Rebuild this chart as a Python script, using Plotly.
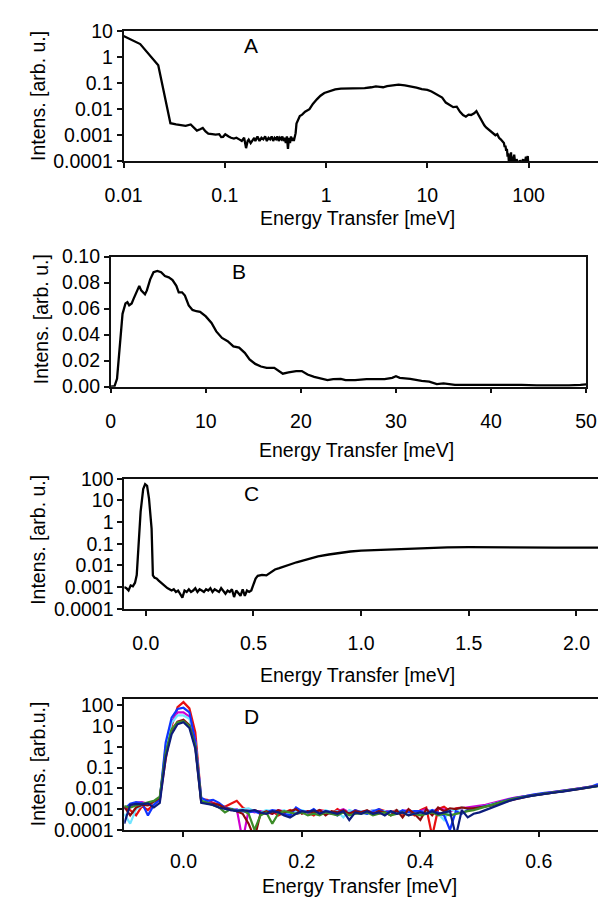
import plotly.graph_objects as go
import math

# ---------------- Panel A (log-log) ----------------
a_x = [0.010, 0.0146, 0.022, 0.029, 0.033, 0.0366, 0.041, 0.046, 0.050, 0.053,
       0.057, 0.0605, 0.0645, 0.0686, 0.075, 0.081, 0.088, 0.092, 0.096, 0.101,
       0.109, 0.115, 0.123, 0.13, 0.14, 0.147, 0.155, 0.162, 0.168, 0.172,
       0.18, 0.187, 0.195, 0.2, 0.21, 0.22, 0.23, 0.24, 0.25, 0.26,
       0.27, 0.28, 0.29, 0.3, 0.31, 0.32, 0.33, 0.34, 0.35, 0.36,
       0.37, 0.38, 0.39, 0.40, 0.41, 0.42, 0.43, 0.44, 0.45, 0.46,
       0.47, 0.48, 0.49, 0.50, 0.51, 0.53, 0.55, 0.58, 0.62, 0.685,
       0.74, 0.81, 0.88, 0.96, 1.05, 1.23, 1.4, 1.72, 2.0, 2.4,
       2.8, 3.1, 3.4, 3.65, 4.0, 4.7, 5.2, 6.0, 6.8, 7.8,
       8.8, 10, 11, 12.8, 14, 15.2, 16.5, 18, 19.5, 21,
       22.5, 24, 25.5, 27, 29, 30.5, 32, 33.5, 35, 36.5,
       38, 40, 42, 45, 47, 49, 51, 53, 55, 57,
       58, 59, 60, 61, 62, 63, 64, 65, 66, 67,
       68, 69, 70, 72, 74, 76, 78, 80, 82, 85,
       88, 91, 94, 96, 98, 100]
a_y = [6.5, 3.2, 0.49, 0.0029, 0.0026, 0.0024, 0.0023, 0.0026, 0.0019, 0.0015,
       0.0017, 0.0019, 0.0014, 0.00115, 0.0011, 0.00105, 0.0011, 0.00085, 0.00087, 0.0011,
       0.0009, 0.0008, 0.00075, 0.0008, 0.00068, 0.0006, 0.0008, 0.00032, 0.0006, 0.00068,
       0.0005, 0.0006, 0.0008, 0.0006, 0.0009, 0.0006, 0.0008, 0.0007, 0.0009, 0.0006,
       0.0008, 0.0007, 0.0009, 0.0006, 0.0008, 0.0007, 0.0009, 0.0006, 0.0008, 0.0007,
       0.0009, 0.0006, 0.0008, 0.0005, 0.0009, 0.0003, 0.0008, 0.0005, 0.0009, 0.0006,
       0.0008, 0.0006, 0.0009, 0.0012, 0.0028, 0.0038, 0.0055, 0.0062, 0.008, 0.01,
       0.016, 0.024, 0.033, 0.042, 0.048, 0.058, 0.062, 0.062, 0.061, 0.065,
       0.07, 0.075, 0.072, 0.07, 0.078, 0.087, 0.088, 0.083, 0.077, 0.068,
       0.059, 0.055, 0.048, 0.034, 0.028, 0.018, 0.015, 0.012, 0.0125, 0.008,
       0.006, 0.0052, 0.0062, 0.006, 0.007, 0.0085, 0.006, 0.0042, 0.0029, 0.0024,
       0.002, 0.0017, 0.0015, 0.0012, 0.001, 0.0011, 0.0008, 0.0007, 0.0006, 0.0005,
       0.00035, 0.0004, 0.00025, 0.0003, 0.00015, 0.0002, 0.00008, 0.00018, 0.0001, 0.00022,
       0.00007, 0.00015, 0.0001, 0.00018, 0.00007, 0.00012, 0.00009, 0.00006, 0.00011, 0.00008,
       0.00012, 0.00007, 0.00015, 0.00008, 0.00016, 0.00005]

# ---------------- Panel B (linear) ----------------
b_x = [0, 0.4, 0.66, 0.93, 1.24, 1.55, 1.75, 1.94, 2.2, 2.4,
       2.8, 3.0, 3.2, 3.6, 3.8, 4.15, 4.5, 4.9, 5.3, 5.7,
       6.1, 6.5, 6.9, 7.15, 7.5, 7.8, 8.2, 8.6, 9.0, 9.4,
       10.0, 10.6, 11.1, 11.7, 12.3, 12.9, 13.5, 14.1, 14.6, 15.2,
       15.8, 16.4, 17.2, 17.6, 18.1, 18.7, 19.5, 20.1, 20.7, 21.4,
       22.2, 22.8, 23.4, 24.2, 24.7, 25.7, 26.9, 28.0, 28.8, 29.6,
       30.0, 30.4, 31.5, 32.7, 33.5, 34.3, 35.0, 36.2, 37.8, 38.9,
       40.1, 41.6, 43.2, 44.8, 46.7, 48.2, 49.4, 50.0]
b_y = [0, 0.0005, 0.006, 0.029, 0.056, 0.064, 0.065, 0.0625, 0.064, 0.0675,
       0.075, 0.0775, 0.074, 0.071, 0.074, 0.0825, 0.088, 0.089, 0.088, 0.085,
       0.084, 0.082, 0.0775, 0.0725, 0.0725, 0.07, 0.0625, 0.059, 0.058, 0.0575,
       0.054, 0.049, 0.0425, 0.0375, 0.035, 0.031, 0.030, 0.026, 0.021, 0.0175,
       0.0155, 0.0145, 0.0145, 0.0125, 0.010, 0.011, 0.012, 0.012, 0.0093, 0.0075,
       0.006, 0.005, 0.0058, 0.006, 0.005, 0.005, 0.0058, 0.006, 0.0058, 0.0068,
       0.008, 0.0068, 0.006, 0.0045, 0.0038, 0.002, 0.0025, 0.0013, 0.0013, 0.0017,
       0.0013, 0.0015, 0.0013, 0.001, 0.0008, 0.001, 0.0013, 0.0017]

# ---------------- Panel C (lin x, log y) ----------------
c_x = [-0.10, -0.09, -0.08, -0.07, -0.06, -0.05, -0.042, -0.033, -0.024, -0.012,
       -0.003, 0.006, 0.015, 0.027, 0.033, 0.041, 0.05, 0.06, 0.07, 0.08,
       0.09, 0.10, 0.11, 0.12, 0.13, 0.14, 0.15, 0.16, 0.17, 0.18,
       0.19, 0.20, 0.21, 0.22, 0.23, 0.24, 0.25, 0.26, 0.27, 0.28,
       0.29, 0.30, 0.31, 0.32, 0.33, 0.34, 0.35, 0.36, 0.37, 0.38,
       0.39, 0.40, 0.41, 0.42, 0.43, 0.44, 0.45, 0.46, 0.47, 0.48,
       0.49, 0.50, 0.51, 0.52, 0.54, 0.56, 0.58, 0.60, 0.62, 0.64,
       0.66, 0.68, 0.70, 0.72, 0.75, 0.78, 0.80, 0.85, 0.90, 0.95,
       1.00, 1.05, 1.10, 1.20, 1.30, 1.40, 1.50, 1.60, 1.70, 1.80,
       1.90, 2.00, 2.10]
c_y = [0.001, 0.0009, 0.0007, 0.0012, 0.0011, 0.0016, 0.0036, 0.19, 3, 33,
       56, 47, 12, 0.5, 0.0035, 0.0027, 0.0025, 0.002, 0.0016, 0.0014,
       0.0011, 0.0009, 0.0008, 0.0007, 0.0008, 0.0006, 0.0007, 0.0005, 0.00033, 0.0007,
       0.0006, 0.0008, 0.0006, 0.0007, 0.0009, 0.0006, 0.0008, 0.0007, 0.0006, 0.0008,
       0.0007, 0.0009, 0.0006, 0.0008, 0.0007, 0.0006, 0.0009, 0.0007, 0.0005, 0.0007,
       0.0006, 0.0008, 0.00035, 0.0007, 0.0005, 0.0004, 0.0008, 0.0004, 0.0007, 0.0006,
       0.0007, 0.0012, 0.0025, 0.0033, 0.0037, 0.0035, 0.005, 0.0065, 0.0075, 0.009,
       0.010, 0.012, 0.014, 0.016, 0.019, 0.023, 0.026, 0.032, 0.038, 0.044,
       0.048, 0.050, 0.054, 0.060, 0.065, 0.068, 0.070, 0.068, 0.068, 0.067,
       0.066, 0.066, 0.066]

# ---------------- Panel D (lin x, log y), 7 runs ----------------
d_x = [-0.10, -0.09, -0.08, -0.07, -0.06, -0.05, -0.04, -0.03, -0.02, -0.01,
       0.00, 0.01, 0.02, 0.03, 0.04, 0.05, 0.06, 0.07, 0.08, 0.09,
       0.10, 0.11, 0.12, 0.13, 0.14, 0.15, 0.16, 0.17, 0.18, 0.19,
       0.20, 0.21, 0.22, 0.23, 0.24, 0.25, 0.26, 0.27, 0.28, 0.29,
       0.30, 0.31, 0.32, 0.33, 0.34, 0.35, 0.36, 0.37, 0.38, 0.39,
       0.40, 0.41, 0.42, 0.43, 0.44, 0.45, 0.46, 0.47, 0.48, 0.49,
       0.50, 0.51, 0.52, 0.53, 0.54, 0.55, 0.56, 0.57, 0.58, 0.59,
       0.60, 0.61, 0.62, 0.63, 0.64, 0.65, 0.66, 0.67, 0.68, 0.69,
       0.70]
d_red = [0.0012, 0.0009, 0.0005, 0.0014, 0.0009, 0.0018, 0.0030, 0.25, 10, 80,
         140, 70, 5, 0.0030, 0.0028, 0.0020, 0.0016, 0.0013, 0.0018, 0.0025,
         0.0012, 0.0008, 0.0009, 0.0007, 0.0006, 0.0008, 0.0005, 0.0007, 0.0009, 0.0006,
         0.0008, 0.0007, 0.0005, 0.0009, 0.0008, 0.0006, 0.0010, 0.0007, 0.0006, 0.0009,
         0.0007, 0.0008, 0.0006, 0.0010, 0.0008, 0.0007, 0.0009, 0.0006, 0.0008, 0.0005,
         0.0009, 0.0012, 0.00005, 0.0010, 0.0013, 0.0008, 0.0011, 0.0012, 0.0011, 0.0012,
         0.0013, 0.0015, 0.0017, 0.0021, 0.0024, 0.0028, 0.0033, 0.0038, 0.0042, 0.0047,
         0.0052, 0.0057, 0.0062, 0.0068, 0.0073, 0.0080, 0.0088, 0.0097, 0.0108, 0.0118,
         0.0135]
d_blue = [0.0010, 0.0018, 0.0022, 0.0020, 0.0005, 0.0016, 0.0030, 1.6, 25, 65,
          75, 45, 1.8, 0.0035, 0.0025, 0.0028, 0.0020, 0.0012, 0.0010, 0.0009,
          0.0008, 0.0007, 0.0008, 0.0006, 0.0007, 0.0009, 0.0008, 0.0006, 0.0005, 0.0012,
          0.0008, 0.0007, 0.0010, 0.0006, 0.0008, 0.0007, 0.0005, 0.0008, 0.0006, 0.0009,
          0.0007, 0.0006, 0.0008, 0.0010, 0.0007, 0.0008, 0.0006, 0.0009, 0.0007, 0.0008,
          0.0008, 0.0006, 0.0009, 0.0007, 0.0005, 0.0001, 0.0008, 0.0006, 0.0009, 0.0011,
          0.0012, 0.0014, 0.0016, 0.0020, 0.0026, 0.0030, 0.0034, 0.0040, 0.0044, 0.0050,
          0.0053, 0.0060, 0.0065, 0.0070, 0.0077, 0.0082, 0.0090, 0.0100, 0.0112, 0.0125,
          0.0160]
d_magenta = [0.0012, 0.0014, 0.0020, 0.0022, 0.0018, 0.0020, 0.0025, 0.9, 15, 45,
             45, 28, 2.2, 0.0025, 0.0022, 0.0018, 0.0012, 0.0011, 0.0009, 0.0010,
             0.00003, 0.0009, 0.0007, 0.0008, 0.0007, 0.0006, 0.0009, 0.0008, 0.0007, 0.0006,
             0.0007, 0.0008, 0.0006, 0.0009, 0.0007, 0.0006, 0.0008, 0.0010, 0.0007, 0.0006,
             0.0008, 0.0007, 0.0009, 0.0006, 0.0008, 0.0007, 0.0006, 0.0008, 0.0009, 0.0007,
             0.0008, 0.0010, 0.0007, 0.0011, 0.0009, 0.0008, 0.0010, 0.0011, 0.0012, 0.0013,
             0.0014, 0.0016, 0.0019, 0.0023, 0.0027, 0.0031, 0.0036, 0.0039, 0.0045, 0.0049,
             0.0054, 0.0058, 0.0064, 0.0070, 0.0075, 0.0081, 0.0089, 0.0098, 0.0108, 0.0120,
             0.0138]
d_cyan = [0.0006, 0.0002, 0.0010, 0.0015, 0.0018, 0.0020, 0.0028, 1.2, 14, 32,
          32, 22, 1.6, 0.0030, 0.0022, 0.0016, 0.0014, 0.0010, 0.0011, 0.0009,
          0.0010, 0.0011, 0.0008, 0.0007, 0.0009, 0.0008, 0.0007, 0.0009, 0.0006, 0.0008,
          0.0009, 0.0007, 0.0008, 0.0006, 0.0009, 0.0007, 0.0008, 0.0004, 0.0009, 0.0007,
          0.0008, 0.0006, 0.0009, 0.0007, 0.0008, 0.0006, 0.0009, 0.0007, 0.0008, 0.0008,
          0.0007, 0.0008, 0.0009, 0.0006, 0.0003, 0.0010, 0.0008, 0.0012, 0.0010, 0.0011,
          0.0012, 0.0014, 0.0017, 0.0020, 0.0024, 0.0029, 0.0033, 0.0037, 0.0042, 0.0047,
          0.0051, 0.0055, 0.0060, 0.0066, 0.0072, 0.0078, 0.0085, 0.0093, 0.0104, 0.0115,
          0.0130]
d_darkred = [0.0013, 0.0005, 0.0012, 0.0016, 0.0015, 0.0022, 0.0035, 0.4, 6, 16,
             20, 11, 1.0, 0.0022, 0.0020, 0.0018, 0.0016, 0.0011, 0.0010, 0.0008,
             0.0006, 0.0002, 0.00004, 0.0006, 0.0008, 0.0006, 0.0009, 0.0007, 0.0008, 0.0010,
             0.0006, 0.0008, 0.0007, 0.0009, 0.0005, 0.0008, 0.0007, 0.0009, 0.0006, 0.0008,
             0.0007, 0.0009, 0.0006, 0.0008, 0.0007, 0.0005, 0.0009, 0.0004, 0.0010, 0.0006,
             0.0003, 0.0010, 0.0005, 0.0012, 0.0008, 0.0011, 0.0010, 0.0012, 0.0011, 0.0011,
             0.0012, 0.0013, 0.0015, 0.0019, 0.0022, 0.0027, 0.0031, 0.0035, 0.0041, 0.0046,
             0.0050, 0.0054, 0.0061, 0.0064, 0.0071, 0.0079, 0.0086, 0.0094, 0.0105, 0.0117,
             0.0132]
d_green = [0.0014, 0.0012, 0.0015, 0.0018, 0.0020, 0.0025, 0.0040, 0.5, 7, 15,
           17, 10, 1.1, 0.0025, 0.0020, 0.0015, 0.0012, 0.0007, 0.0010, 0.0008,
           0.0009, 0.0006, 0.0001, 0.0005, 0.0007, 0.0002, 0.0006, 0.0008, 0.0007, 0.0006,
           0.0007, 0.0005, 0.0006, 0.0005, 0.0007, 0.0006, 0.0005, 0.0007, 0.0005, 0.0006,
           0.0006, 0.0007, 0.0005, 0.0006, 0.0007, 0.0005, 0.0006, 0.0007, 0.0005, 0.0006,
           0.0005, 0.0006, 0.0007, 0.0005, 0.0006, 0.0005, 0.0006, 0.0007, 0.0008, 0.0009,
           0.0011, 0.0013, 0.0016, 0.0020, 0.0024, 0.0028, 0.0033, 0.0037, 0.0041, 0.0046,
           0.0051, 0.0056, 0.0060, 0.0066, 0.0071, 0.0077, 0.0084, 0.0093, 0.0103, 0.0113,
           0.0128]
d_navy = [0.0002, 0.0016, 0.0018, 0.0017, 0.0019, 0.0012, 0.0020, 0.3, 4, 12,
          15, 8, 0.8, 0.0020, 0.0018, 0.0016, 0.0012, 0.0010, 0.0009, 0.0008,
          0.0009, 0.0008, 0.0009, 0.0007, 0.0006, 0.0008, 0.0007, 0.0005, 0.0004, 0.0006,
          0.0008, 0.0007, 0.0009, 0.0006, 0.0008, 0.0007, 0.0006, 0.0008, 0.0003, 0.0007,
          0.0006, 0.0008, 0.0006, 0.0007, 0.0005, 0.0008, 0.0006, 0.0007, 0.0005, 0.0006,
          0.0007, 0.0006, 0.0008, 0.0006, 0.0007, 0.0008, 0.00005, 0.0009, 0.0004, 0.0006,
          0.0007, 0.0009, 0.0012, 0.0016, 0.0020, 0.0025, 0.0030, 0.0036, 0.0040, 0.0045,
          0.0050, 0.0055, 0.0060, 0.0065, 0.0070, 0.0077, 0.0085, 0.0094, 0.0104, 0.0115,
          0.0130]

d_series = [
    ("red", d_red, "#E81010"),
    ("magenta", d_magenta, "#D000D0"),
    ("cyan", d_cyan, "#70E4FF"),
    ("blue", d_blue, "#1034FF"),
    ("darkred", d_darkred, "#8B0A0A"),
    ("green", d_green, "#3C8C28"),
    ("navy", d_navy, "#0C1C7C"),
]

log_ticks = [0.0001, 0.001, 0.01, 0.1, 1, 10, 100]
log_text = ["0.0001", "0.001", "0.01", "0.1", "1", "10", "100"]
a_xticks = [0.01, 0.1, 1, 10, 100]
a_xtext = ["0.01", "0.1", "1", "10", "100"]

W, H = 609, 907
FONT = "Liberation Sans, Arial, sans-serif"
FS = 19.5

fig = go.Figure()
fig.add_trace(go.Scatter(x=a_x, y=a_y, mode="lines", line=dict(color="black", width=2.3),
                         xaxis="x", yaxis="y", showlegend=False))
fig.add_trace(go.Scatter(x=b_x, y=b_y, mode="lines", line=dict(color="black", width=2.3),
                         xaxis="x2", yaxis="y2", showlegend=False))
fig.add_trace(go.Scatter(x=c_x, y=c_y, mode="lines", line=dict(color="black", width=2.3),
                         xaxis="x3", yaxis="y3", showlegend=False))
for name, ys, col in d_series:
    fig.add_trace(go.Scatter(x=d_x, y=ys, mode="lines", name=name,
                             line=dict(color=col, width=2.2),
                             xaxis="x4", yaxis="y4", showlegend=False))


def px_x(p):
    return p / W


def px_y(p):
    return 1 - p / H


base_axis = dict(showgrid=False, zeroline=False, showline=True, linecolor="#111111",
                 linewidth=1.6, ticks="outside", ticklen=5, tickwidth=1.5,
                 tickcolor="#111111", tickfont=dict(family=FONT, size=FS, color="black"))

xlab_pad = 11

fig.update_layout(
    width=W, height=H, margin=dict(l=0, r=0, t=0, b=0),
    paper_bgcolor="white", plot_bgcolor="white",
    font=dict(family=FONT, size=FS, color="black"),
    xaxis=dict(base_axis, type="log", range=[-2, 2.685], domain=[px_x(110), 1],
               anchor="y", mirror=True, tickvals=a_xticks, ticktext=a_xtext,
               ticklabelstandoff=xlab_pad),
    yaxis=dict(base_axis, type="log", range=[-4, 1], domain=[px_y(154), px_y(20.7)],
               anchor="x", tickvals=log_ticks[:6], ticktext=log_text[:6]),
    xaxis2=dict(base_axis, range=[0, 50], domain=[px_x(96.5), px_x(596.5)],
                anchor="y2", mirror=True, tickvals=[0, 10, 20, 30, 40, 50],
                ticklabelstandoff=xlab_pad),
    yaxis2=dict(base_axis, range=[0, 0.1], domain=[px_y(385), px_y(251.7)],
                anchor="x2", mirror=True, tickvals=[0, 0.02, 0.04, 0.06, 0.08, 0.10],
                tickformat=".2f"),
    xaxis3=dict(base_axis, range=[-0.1, 2.1], domain=[px_x(110.7), 1],
                anchor="y3", mirror=True, tickvals=[0, 0.5, 1.0, 1.5, 2.0],
                tickformat=".1f", ticklabelstandoff=xlab_pad),
    yaxis3=dict(base_axis, type="log", range=[-4, 2], domain=[px_y(612.7), px_y(479.3)],
                anchor="x3", tickvals=log_ticks, ticktext=log_text),
    xaxis4=dict(base_axis, range=[-0.1, 0.7], domain=[px_x(110.7), 1],
                anchor="y4", mirror=True, tickvals=[0, 0.2, 0.4, 0.6],
                tickformat=".1f", ticklabelstandoff=xlab_pad - 3),
    yaxis4=dict(base_axis, type="log", range=[-4, math.log10(200)],
                domain=[px_y(839.3), px_y(705)],
                anchor="x4", tickvals=log_ticks, ticktext=log_text),
)

annots = []
# x-axis titles
for cx, cy in [(356, 212), (355, 450), (356, 680), (358, 897)]:
    annots.append(dict(text="Energy Transfer [meV]", x=px_x(cx), y=px_y(cy),
                       xref="paper", yref="paper", showarrow=False,
                       xanchor="center", yanchor="middle",
                       font=dict(family=FONT, size=FS, color="black")))
# y-axis titles
for txt, cx, cy in [("Intens. [arb. u.]", 20, 87), ("Intens. [arb. u.]", 23, 316),
                    ("Intens. [arb. u.]", 20, 542), ("Intens. [arb.u.]", 20, 772)]:
    annots.append(dict(text=txt, x=px_x(cx), y=px_y(cy), xref="paper", yref="paper",
                       showarrow=False, textangle=-90, xanchor="center", yanchor="middle",
                       font=dict(family=FONT, size=FS, color="black")))
# panel letters
for txt, cx, cy in [("A", 244, 35), ("B", 231, 267), ("C", 245, 495), ("D", 245, 723)]:
    annots.append(dict(text=txt, x=px_x(cx), y=px_y(cy), xref="paper", yref="paper",
                       showarrow=False, xanchor="center", yanchor="middle",
                       font=dict(family=FONT, size=21, color="black")))
fig.update_layout(annotations=annots)

fig.write_html("out.html")
